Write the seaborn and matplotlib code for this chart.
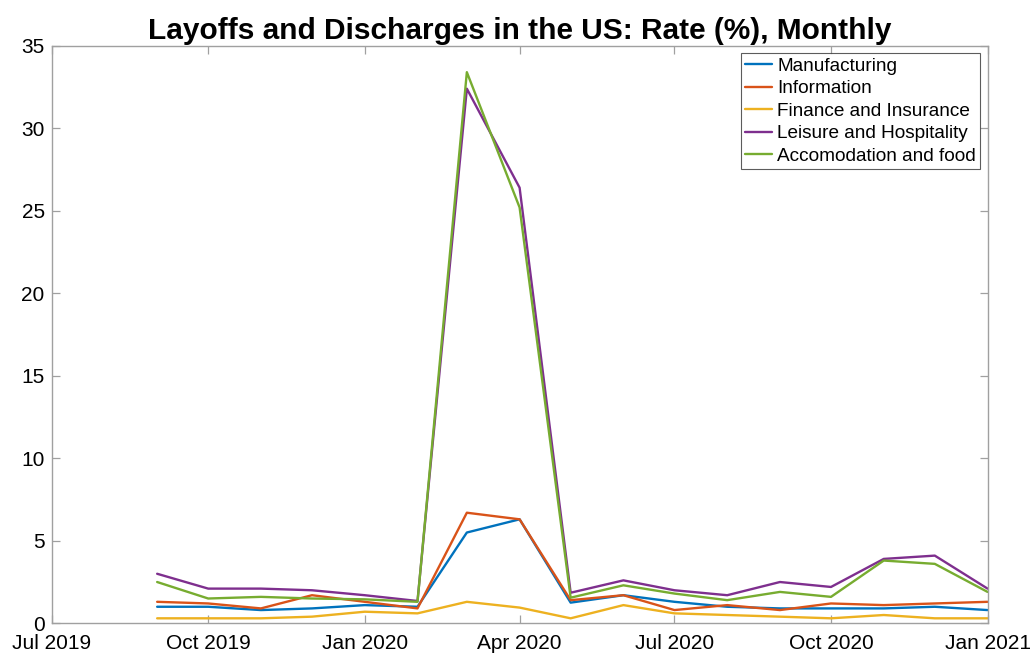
import pandas as pd
import seaborn as sns
import matplotlib.pyplot as plt
import matplotlib.dates as mdates

# -------------------------------
# Data (monthly, Sep 2019 - Jan 2021)
# -------------------------------
months = ["2019-09", "2019-10", "2019-11", "2019-12", "2020-01", "2020-02",
          "2020-03", "2020-04", "2020-05", "2020-06", "2020-07", "2020-08",
          "2020-09", "2020-10", "2020-11", "2020-12", "2021-01"]

manufacturing = [1.0, 1.0, 0.8, 0.9, 1.1, 1.0, 5.5, 6.3, 1.25, 1.7, 1.3, 1.0,
                 0.9, 0.9, 0.9, 1.0, 0.8]
information = [1.3, 1.2, 0.9, 1.7, 1.3, 0.9, 6.7, 6.3, 1.4, 1.7, 0.8, 1.1,
               0.8, 1.2, 1.1, 1.2, 1.3]
finance = [0.3, 0.3, 0.3, 0.4, 0.7, 0.6, 1.3, 0.95, 0.3, 1.1, 0.6, 0.5,
           0.4, 0.3, 0.5, 0.3, 0.3]
leisure = [3.0, 2.1, 2.1, 2.0, 1.7, 1.35, 32.4, 26.4, 1.85, 2.6, 2.0, 1.7,
           2.5, 2.2, 3.9, 4.1, 2.1]
accomodation = [2.5, 1.5, 1.6, 1.5, 1.45, 1.3, 33.4, 25.2, 1.55, 2.3, 1.8, 1.4,
                1.9, 1.6, 3.8, 3.6, 1.9]

series_names = ["Manufacturing", "Information", "Finance and Insurance",
                "Leisure and Hospitality", "Accomodation and food"]
series_values = [manufacturing, information, finance, leisure, accomodation]
colors = ["#0072BD", "#D95319", "#EDB120", "#7E2F8E", "#77AC30"]

# long format for seaborn
dates = pd.to_datetime(months)
frames = []
for name, vals in zip(series_names, series_values):
    frames.append(pd.DataFrame({"Date": dates, "Rate": vals, "Sector": name}))
df = pd.concat(frames, ignore_index=True)

# -------------------------------
# Plot
# -------------------------------
sns.set_style("white")
plt.rcParams["font.family"] = ["Liberation Sans", "DejaVu Sans"]
plt.rcParams["text.color"] = "black"

fig = plt.figure(figsize=(10.33, 6.54), dpi=100)
ax = fig.add_axes([0.050, 0.047, 0.906, 0.883])

sns.lineplot(data=df, x="Date", y="Rate", hue="Sector", hue_order=series_names,
             palette=colors, linewidth=1.7, ax=ax)

ax.set_xlim(pd.Timestamp("2019-07-01"), pd.Timestamp("2021-01-01"))
ax.set_ylim(0, 35)
ax.set_yticks(range(0, 36, 5))
ax.xaxis.set_major_locator(mdates.MonthLocator(bymonth=[1, 4, 7, 10]))
ax.xaxis.set_major_formatter(mdates.DateFormatter("%b %Y"))
ax.set_xlabel("")
ax.set_ylabel("")

for sp in ax.spines.values():
    sp.set_visible(True)
    sp.set_color("#a0a0a0")
    sp.set_linewidth(1.0)
ax.tick_params(direction="in", length=6, width=0.9, color="#a0a0a0",
               labelsize=15, labelcolor="black", top=True, right=True,
               bottom=True, left=True)
ax.tick_params(axis="y", pad=5)
ax.tick_params(axis="x", pad=8)

ax.set_title("Layoffs and Discharges in the US: Rate (%), Monthly",
             fontsize=21.5, fontweight="bold", color="black", pad=5)

leg = ax.legend(loc="upper right", fontsize=13.7, frameon=True, fancybox=False,
                edgecolor="#333333", handlelength=1.4, handletextpad=0.3,
                borderpad=0.2, labelspacing=0.28, borderaxespad=0.4)
leg.get_frame().set_linewidth(0.8)
for t in leg.get_texts():
    t.set_color("black")

plt.savefig("out.png", dpi=100)
